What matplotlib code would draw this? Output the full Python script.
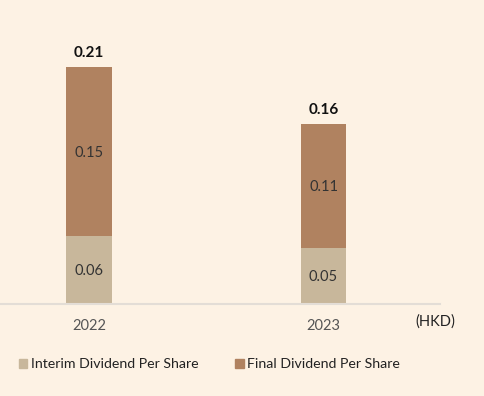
import matplotlib
matplotlib.use("Agg")
import matplotlib.pyplot as plt
from matplotlib.patches import Patch

years = ["2022", "2023"]
interim = [0.06, 0.05]
final = [0.15, 0.11]
totals = [0.21, 0.16]

BG = "#fdf2e4"
C_INT = "#c8b79b"
C_FIN = "#b08260"
plt.rcParams['font.family'] = ['Lato', 'DejaVu Sans']

fig = plt.figure(figsize=(4.84, 3.96), dpi=100, facecolor=BG)
ax = fig.add_axes([0.0, 92/396, 440/484, 282/396], facecolor=BG)

x = list(range(len(years)))
w = 0.196
ax.bar(x, interim, width=w, color=C_INT, zorder=2)
ax.bar(x, final, width=w, bottom=interim, color=C_FIN, zorder=2)

for i in x:
    ax.text(i, interim[i] / 2 - 0.001, f"{interim[i]:.2f}", ha="center", va="center", fontsize=10.5, color="#333333")
    ax.text(i, interim[i] + final[i] / 2 - 0.001, f"{final[i]:.2f}", ha="center", va="center", fontsize=10.5, color="#333333")
    ax.text(i, totals[i] + 0.006, f"{totals[i]:.2f}", ha="center", va="bottom", fontsize=11, fontweight="bold", color="#111111")

ax.set_xlim(-89/234.5, (440-89)/234.5)
ax.set_ylim(0, 0.25)
ax.set_yticks([])
ax.set_xticks(x)
ax.set_xticklabels(years, fontsize=10.5, color="#555555")
ax.tick_params(axis="x", length=0, pad=11)
for s in ["top", "right", "left"]:
    ax.spines[s].set_visible(False)
ax.spines["bottom"].set_color("#e3ddd6")
ax.spines["bottom"].set_linewidth(1.5)

fig.text(415/484, 1 - 322/396, "(HKD)", fontsize=10.5, color="#222222", va="center", ha="left")

handles = [Patch(color=C_INT, label="Interim Dividend Per Share"),
           Patch(color=C_FIN, label="Final Dividend Per Share")]
fig.legend(handles=handles, loc="center left", bbox_to_anchor=(6/484, 1 - 364/396), ncol=2,
           frameon=False, fontsize=10.2, handlelength=0.6, handleheight=0.6, handletextpad=0.25,
           columnspacing=2.6, labelcolor="#222222")

fig.savefig("out.png", dpi=100, facecolor=BG)
